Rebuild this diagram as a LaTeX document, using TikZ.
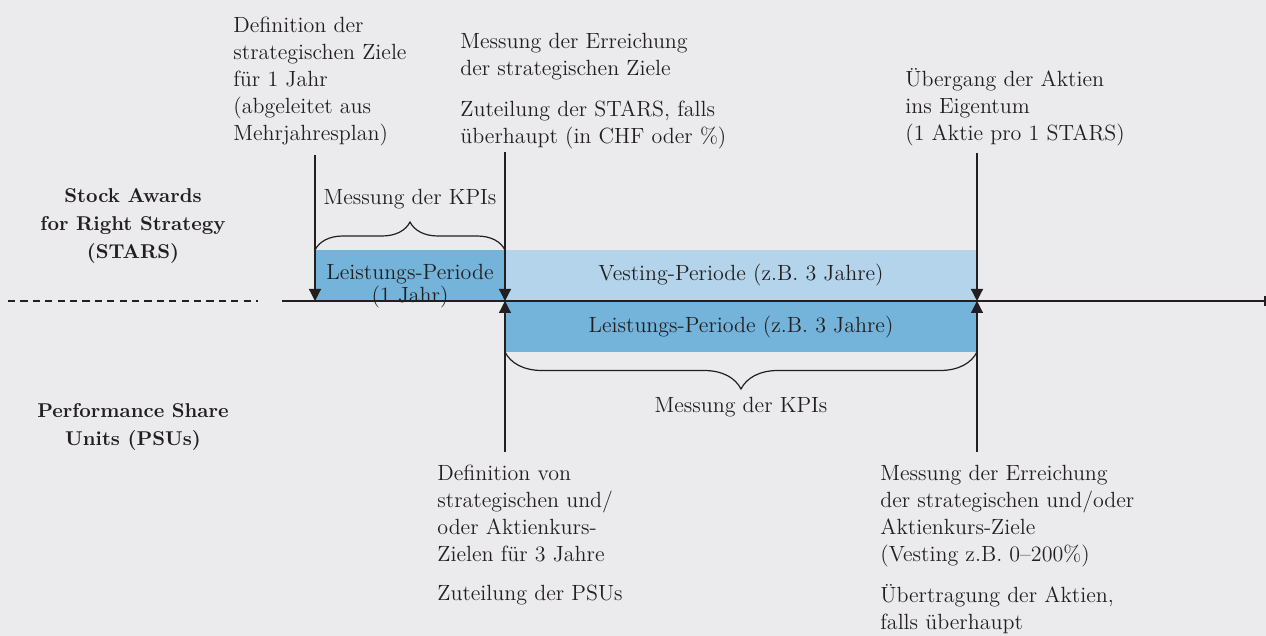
\documentclass[tikz,border=0pt]{standalone}
\usepackage{tikz}
\usetikzlibrary{arrows.meta,decorations.pathreplacing}
\definecolor{hintergrund}{HTML}{EBEBED}
\definecolor{dunkelblau}{HTML}{74B3DA}
\definecolor{hellblau}{HTML}{B3D4EA}
\definecolor{schrift}{HTML}{231F20}
\tikzset{
  textblock/.style={anchor=north west, align=left, inner sep=0pt, text=schrift, font=\fontsize{11}{13.5}\selectfont},
  titel/.style={anchor=north, align=center, inner sep=0pt, text=schrift, font=\fontsize{10}{14}\selectfont\bfseries},
  balken/.style={inner sep=0pt, align=center, text=schrift, font=\fontsize{11}{10}\selectfont},
  linie/.style={line width=0.6pt, draw=schrift},
  pfeil/.style={linie, -{Triangle[width=6pt,length=6pt]}},
  klammer/.style={linie, decorate, decoration={brace, amplitude=14pt}},
}
\begin{document}
\begin{tikzpicture}[x=0.5pt, y=-0.5pt]
\fill[hintergrund] (0,0) rectangle (1266,636);
\useasboundingbox (0,0) rectangle (1266,636);

\fill[dunkelblau] (315,250) rectangle (505,301);
\fill[hellblau] (505,250) rectangle (977,301);
\fill[dunkelblau] (505,301) rectangle (977,352);

\path (133,188) node (stars) [titel] {Stock Awards\\for Right Strategy\\(STARS)};
\path (133,403) node (psus) [titel] {Performance Share\\Units (PSUs)};

\path (233,17) node (zieldef) [textblock] {Definition der\\strategischen Ziele\\für 1 Jahr\\(abgeleitet aus\\Mehrjahresplan)};
\path (460,33) node (zielmess) [textblock] {Messung der Erreichung\\der strategischen Ziele\\[7pt]Zuteilung der STARS, falls\\überhaupt (in CHF oder \%)};
\path (905,68) node (eigentum) [textblock] {Übergang der Aktien\\ins Eigentum\\(1 Aktie pro 1 STARS)};
\path (437,465) node (psudef) [textblock] {Definition von\\strategischen und/\\oder Aktienkurs-\\Zielen für 3 Jahre\\[6pt]Zuteilung der PSUs};
\path (880,465) node (psumess) [textblock] {Messung der Erreichung\\der strategischen und/oder\\Aktienkurs-Ziele\\(Vesting z.B. 0--200\%)\\[7pt]Übertragung der Aktien,\\falls überhaupt};

\path (410,264) node (lp1) [balken, anchor=north] {Leistungs-Periode\\(1 Jahr)};
\path (741,281) node (vp) [balken, anchor=base] {Vesting-Periode (z.B. 3 Jahre)};
\path (741,333) node (lp3) [balken, anchor=base] {Leistungs-Periode (z.B. 3 Jahre)};
\path (410,205) node (kpi1) [balken, anchor=base] {Messung der KPIs};
\path (741,413) node (kpi3) [balken, anchor=base] {Messung der KPIs};

\coordinate (strichL) at (8,301);
\coordinate (strichR) at (258,301);
\coordinate (achseL) at (282,301);
\coordinate (achseR) at (1265,301);
\coordinate (p1) at (315,301);
\coordinate (p2) at (505,301);
\coordinate (p3) at (977,301);
\coordinate (t1) at (315,155);
\coordinate (t2) at (505,152);
\coordinate (t3) at (977,153);
\coordinate (b2) at (505,452);
\coordinate (b3) at (977,452);

\draw[linie, dash pattern=on 3.6pt off 2.6pt] (strichL) -- (strichR);
\draw[linie] (achseL) -- (achseR);
\draw[linie] ([yshift=2.5pt]achseR) -- ([yshift=-2.5pt]achseR);
\draw[pfeil] (t1) -- (p1);
\draw[pfeil] (t2) -- (p2);
\draw[pfeil] (t3) -- (p3);
\draw[pfeil] (b2) -- (p2);
\draw[pfeil] (b3) -- (p3);

\draw[klammer] (315,250) -- (505,250);
\draw[klammer, decoration={amplitude=18.5pt}] (977,352) -- (505,352);
\end{tikzpicture}
\end{document}
